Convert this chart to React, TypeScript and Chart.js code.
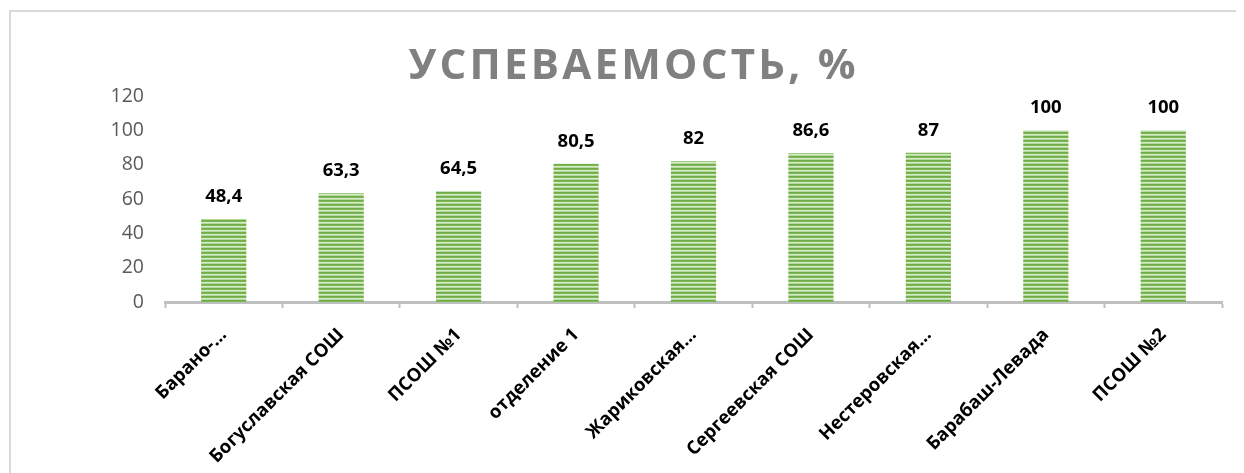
import React, { useEffect, useRef } from "react";
import { Chart, registerables } from "chart.js";

Chart.register(...registerables);

const categories = [
  "Барано-…",
  "Богуславская СОШ",
  "ПСОШ №1",
  "отделение 1",
  "Жариковская…",
  "Сергеевская СОШ",
  "Нестеровская…",
  "Барабаш-Левада",
  "ПСОШ №2",
];
const values = [48.4, 63.3, 64.5, 80.5, 82, 86.6, 87, 100, 100];
const yTicks = [0, 20, 40, 60, 80, 100, 120];
const titleText = "УСПЕВАЕМОСТЬ, %";

const FONT = "'Open Sans', 'Noto Sans', sans-serif";

function makePattern(ctx: CanvasRenderingContext2D): CanvasPattern | string {
  const c = document.createElement("canvas");
  c.width = 1;
  c.height = 4;
  const p = c.getContext("2d");
  if (!p) return "#70ad47";
  const cols = ["#70ad47", "#7cb656", "#d6ebc8", "#b5d99e"];
  cols.forEach((col, i) => {
    p.fillStyle = col;
    p.fillRect(0, i, 1, 1);
  });
  return ctx.createPattern(c, "repeat") || "#70ad47";
}

export default function App() {
  const ref = useRef<HTMLCanvasElement | null>(null);

  useEffect(() => {
    const canvas = ref.current;
    if (!canvas) return;
    const ctx = canvas.getContext("2d");
    if (!ctx) return;
    const pattern = makePattern(ctx);

    const framePlugin = {
      id: "frame",
      beforeDraw(chart: any) {
        const c = chart.ctx;
        c.save();
        c.strokeStyle = "#d9d9d9";
        c.lineWidth = 2;
        c.beginPath();
        c.moveTo(2, chart.height + 10);
        c.lineTo(2, 3);
        c.lineTo(chart.width + 10, 3);
        c.stroke();
        c.restore();
      },
    };

    const titlePlugin = {
      id: "customTitle",
      afterDraw(chart: any) {
        const c = chart.ctx;
        c.save();
        c.font = `bold 42px ${FONT}`;
        c.fillStyle = "#808080";
        c.textBaseline = "alphabetic";
        const targetW = 447;
        const n = titleText.length;
        const w0 = c.measureText(titleText).width;
        const sp = (targetW - w0) / (n - 1);
        let x = 624 - targetW / 2;
        for (const ch of titleText) {
          c.fillText(ch, x, 71);
          x += c.measureText(ch).width + sp;
        }
        c.restore();
      },
    };

    const labelPlugin = {
      id: "valueLabels",
      afterDatasetsDraw(chart: any) {
        const c = chart.ctx;
        const meta = chart.getDatasetMeta(0);
        c.save();
        c.font = `bold 18.5px ${FONT}`;
        c.fillStyle = "#000000";
        c.textAlign = "center";
        c.textBaseline = "alphabetic";
        meta.data.forEach((bar: any, i: number) => {
          const txt = String(values[i]).replace(".", ",");
          c.fillText(txt, bar.x, bar.y - 17);
        });
        c.restore();
      },
    };

    const chart = new Chart(ctx, {
      type: "bar",
      data: {
        labels: categories,
        datasets: [
          {
            data: values,
            backgroundColor: pattern as any,
            borderWidth: 0,
            barPercentage: 0.385,
            categoryPercentage: 1,
          },
        ],
      },
      options: {
        animation: false,
        responsive: false,
        maintainAspectRatio: false,
        layout: { padding: { top: 88, right: 22, left: 0, bottom: 0 } },
        plugins: {
          legend: { display: false },
          title: { display: false },
          tooltip: { enabled: false },
        },
        scales: {
          x: {
            offset: true,
            grid: {
              offset: true,
              drawOnChartArea: false,
              drawTicks: true,
              tickLength: 6,
              tickWidth: 2,
              tickColor: "#bfbfbf",
            },
            border: { display: true, color: "#bfbfbf", width: 3 },
            ticks: {
              minRotation: 45,
              maxRotation: 45,
              autoSkip: false,
              padding: 16,
              color: "#000000",
              font: { family: FONT, size: 18.5, weight: "bold" },
            },
            afterFit(scale: any) {
              scale.height = 171;
            },
          },
          y: {
            min: 0,
            max: 120,
            afterBuildTicks(scale: any) {
              scale.ticks = yTicks.map((v) => ({ value: v }));
            },
            grid: { display: false, drawTicks: false },
            border: { display: false },
            ticks: {
              padding: 21,
              color: "#595959",
              font: { family: FONT, size: 19.5 },
            },
            afterFit(scale: any) {
              scale.width = 157;
            },
          },
        },
      },
      plugins: [framePlugin, titlePlugin, labelPlugin],
    });
    return () => chart.destroy();
  }, []);

  return (
    <div style={{ width: 1236, height: 465, overflow: "hidden" }}>
      <canvas ref={ref} width={1236} height={465} style={{ display: "block" }} />
    </div>
  );
}
